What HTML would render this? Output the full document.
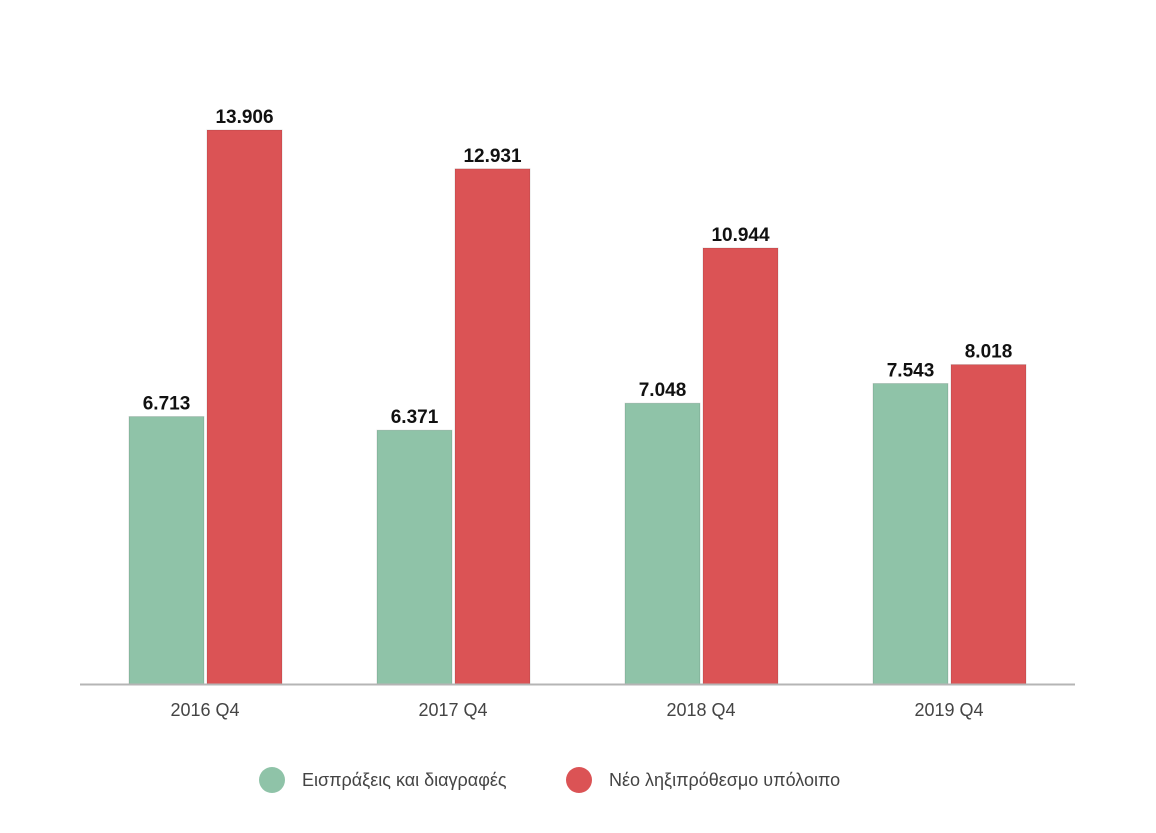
<!DOCTYPE html>
<html><head><meta charset="utf-8"><style>
body{margin:0;background:#fff;width:1156px;height:828px;overflow:hidden;font-family:"Liberation Sans",sans-serif}
</style></head><body>
<svg id="chart" width="1156" height="828" xmlns="http://www.w3.org/2000/svg">
<g id="bars"></g>
<line x1="80" x2="1075" y1="684.5" y2="684.5" stroke="#b5b5b5" stroke-width="2"/>
<g id="xlabels"></g>
<g>
<g><circle cx="272" cy="780" r="13" fill="#8fc3a8"/><text x="302" y="786" font-size="18" fill="#444">Εισπράξεις και διαγραφές</text></g>
<g><circle cx="579" cy="780" r="13" fill="#db5355"/><text x="609" y="786" font-size="18" fill="#444">Νέο ληξιπρόθεσμο υπόλοιπο</text></g>
</g>
</svg>
<script>
const categories=["2016 Q4","2017 Q4","2018 Q4","2019 Q4"];
const collections=[6.713,6.371,7.048,7.543];
const newArrears=[13.906,12.931,10.944,8.018];
const valueLabelsA=["6.713","6.371","7.048","7.543"];
const valueLabelsB=["13.906","12.931","10.944","8.018"];
const NS="http://www.w3.org/2000/svg";
const base=684, pxPerUnit=554/13.906;
const y=v=>base-v*pxPerUnit;
const x0=i=>129+i*248;
const bars=document.getElementById('bars'), xl=document.getElementById('xlabels');
function mk(t,a){const e=document.createElementNS(NS,t);for(const k in a)e.setAttribute(k,a[k]);return e;}
categories.forEach((c,i)=>{
  [[collections,valueLabelsA,"#8fc3a8","collections",0],[newArrears,valueLabelsB,"#db5355","new-arrears",78]].forEach(([arr,lab,col,nm,off])=>{
    const r=mk('rect',{x:x0(i)+off,y:y(arr[i]),width:75,height:base-y(arr[i]),fill:col,stroke:"rgba(0,0,0,0.12)"});
    
    
    bars.appendChild(r);
    const t=mk('text',{x:x0(i)+off+37.5,y:y(arr[i])-7,'text-anchor':'middle','font-size':19,'font-weight':'bold',fill:'#111'});
    t.textContent=lab[i];
    
    
    bars.appendChild(t);
  });
  const t=mk('text',{x:x0(i)+76,y:716,'text-anchor':'middle','font-size':18,fill:'#444'});
  t.textContent=c;
  
  
  xl.appendChild(t);
});
</script>
</body></html>
